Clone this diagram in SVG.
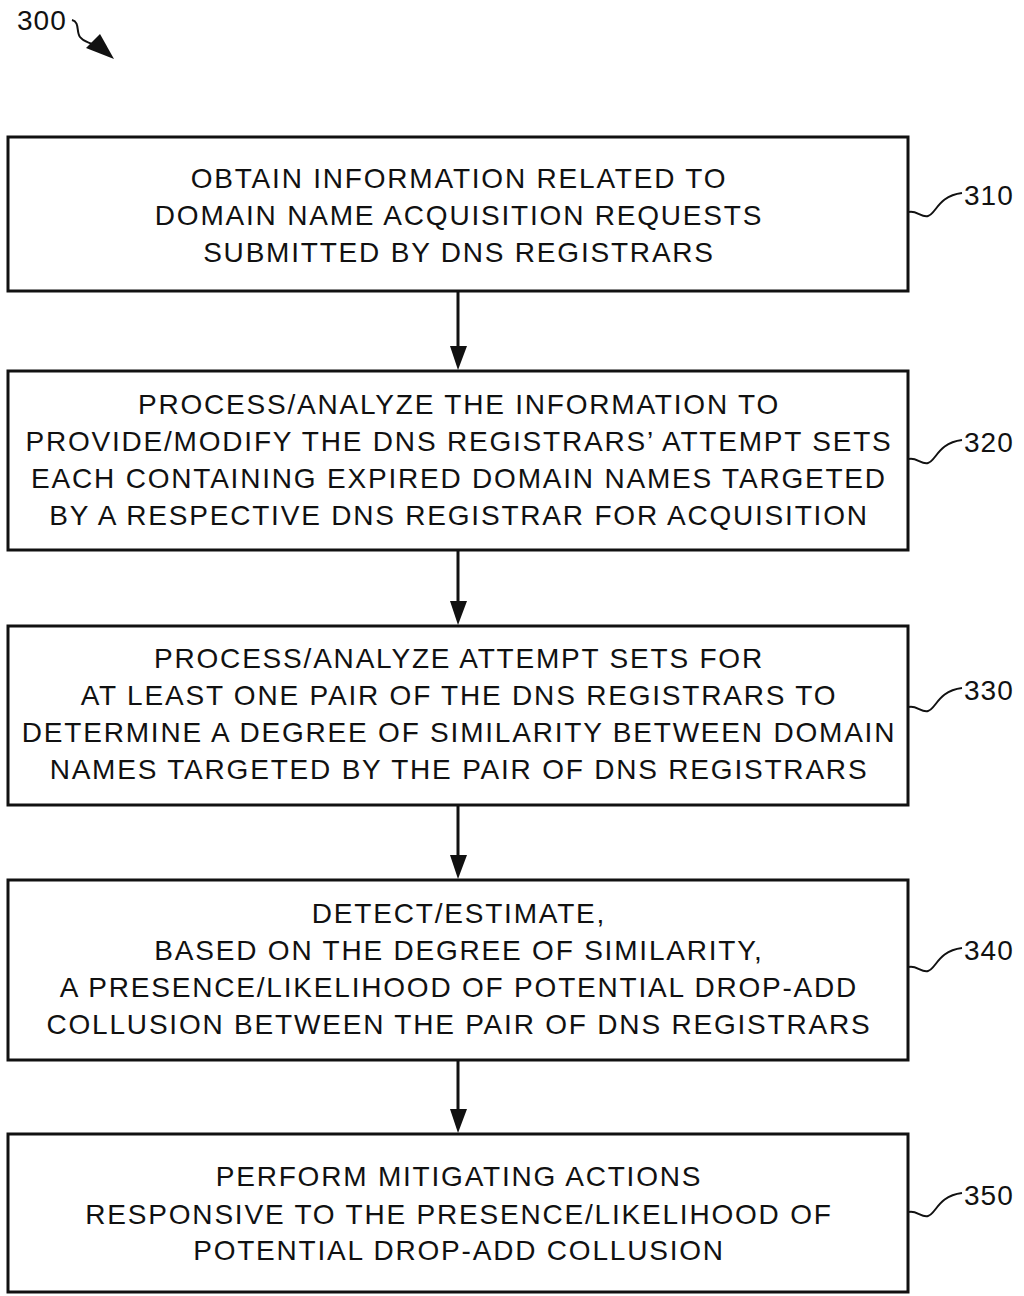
<svg xmlns="http://www.w3.org/2000/svg" width="1024" height="1296" viewBox="0 0 1024 1296">
<style>
.box{fill:#fff;stroke:#111;stroke-width:3}
.t{font-family:"Liberation Sans",Arial,sans-serif;font-size:28px;letter-spacing:1.8px;fill:#111;text-anchor:middle}
.lbl{font-family:"Liberation Sans",Arial,sans-serif;font-size:28px;letter-spacing:1px;fill:#111}
.lead{fill:none;stroke:#111;stroke-width:2}
.conn{fill:none;stroke:#111;stroke-width:3}
.head{fill:#111}
</style>
<rect width="1024" height="1296" fill="#fff"/>
<g id="ref300">
<text class="lbl" x="17" y="30">300</text>
<path class="lead" d="M72,20 C80,22 76,32 80,37 C84,42 88,42 92,44"/>
<path class="head" d="M86,48 L100,34 L114,59 Z"/>
</g>
<g id="connectors">
<line class="conn" x1="458" y1="291" x2="458" y2="350"/>
<line class="conn" x1="458" y1="550" x2="458" y2="605"/>
<line class="conn" x1="458" y1="805" x2="458" y2="859"/>
<line class="conn" x1="458" y1="1060" x2="458" y2="1113"/>
<path class="head" d="M450,346 L467,346 L458,370 Z"/>
<path class="head" d="M450,601 L467,601 L458,625 Z"/>
<path class="head" d="M450,855 L467,855 L458,879 Z"/>
<path class="head" d="M450,1109 L467,1109 L458,1133 Z"/>
</g>
<g id="n310">
<rect class="box" x="8" y="137" width="900" height="154"/>
<text class="t" x="459" y="188">OBTAIN INFORMATION RELATED TO</text>
<text class="t" x="459" y="225">DOMAIN NAME ACQUISITION REQUESTS</text>
<text class="t" x="459" y="262">SUBMITTED BY DNS REGISTRARS</text>
<path class="lead" d="M909,212 C916,210 922,218 928,216 C936,214 938,196 962,193"/>
<text class="lbl" x="964" y="205">310</text>
</g>
<g id="n320">
<rect class="box" x="8" y="371" width="900" height="179"/>
<text class="t" x="459" y="414">PROCESS/ANALYZE THE INFORMATION TO</text>
<text class="t" x="459" y="451">PROVIDE/MODIFY THE DNS REGISTRARS’ ATTEMPT SETS</text>
<text class="t" x="459" y="488">EACH CONTAINING EXPIRED DOMAIN NAMES TARGETED</text>
<text class="t" x="459" y="525">BY A RESPECTIVE DNS REGISTRAR FOR ACQUISITION</text>
<path class="lead" d="M909,459 C916,457 922,465 928,463 C936,461 938,443 962,440"/>
<text class="lbl" x="964" y="452">320</text>
</g>
<g id="n330">
<rect class="box" x="8" y="626" width="900" height="179"/>
<text class="t" x="459" y="668">PROCESS/ANALYZE ATTEMPT SETS FOR</text>
<text class="t" x="459" y="705">AT LEAST ONE PAIR OF THE DNS REGISTRARS TO</text>
<text class="t" x="459" y="742">DETERMINE A DEGREE OF SIMILARITY BETWEEN DOMAIN</text>
<text class="t" x="459" y="779">NAMES TARGETED BY THE PAIR OF DNS REGISTRARS</text>
<path class="lead" d="M909,707 C916,705 922,713 928,711 C936,709 938,691 962,688"/>
<text class="lbl" x="964" y="700">330</text>
</g>
<g id="n340">
<rect class="box" x="8" y="880" width="900" height="180"/>
<text class="t" x="459" y="923">DETECT/ESTIMATE,</text>
<text class="t" x="459" y="960">BASED ON THE DEGREE OF SIMILARITY,</text>
<text class="t" x="459" y="997">A PRESENCE/LIKELIHOOD OF POTENTIAL DROP-ADD</text>
<text class="t" x="459" y="1034">COLLUSION BETWEEN THE PAIR OF DNS REGISTRARS</text>
<path class="lead" d="M909,967 C916,965 922,973 928,971 C936,969 938,951 962,948"/>
<text class="lbl" x="964" y="960">340</text>
</g>
<g id="n350">
<rect class="box" x="8" y="1134" width="900" height="158"/>
<text class="t" x="459" y="1186">PERFORM MITIGATING ACTIONS</text>
<text class="t" x="459" y="1224">RESPONSIVE TO THE PRESENCE/LIKELIHOOD OF</text>
<text class="t" x="459" y="1260">POTENTIAL DROP-ADD COLLUSION</text>
<path class="lead" d="M909,1212 C916,1210 922,1218 928,1216 C936,1214 938,1196 962,1193"/>
<text class="lbl" x="964" y="1205">350</text>
</g>
</svg>
